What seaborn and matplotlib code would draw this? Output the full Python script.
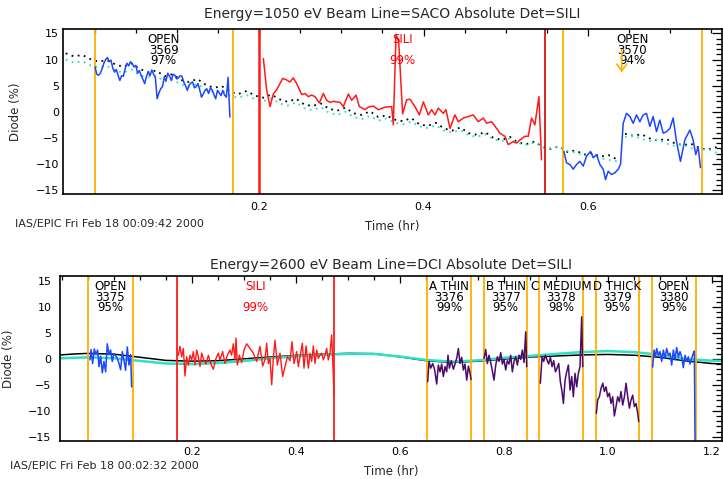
import numpy as np
import pandas as pd
import matplotlib
matplotlib.use("Agg")
import matplotlib.pyplot as plt
import seaborn as sns
from matplotlib.ticker import MultipleLocator, FixedLocator

sns.set_style("white", {"axes.edgecolor": "black"})
plt.rcParams["font.family"] = ["DejaVu Sans"]

# ---------------- data : top panel (1050 eV, SACO) ----------------
top_title = "Energy=1050 eV Beam Line=SACO Absolute Det=SILI"
top_footer = "IAS/EPIC Fri Feb 18 00:09:42 2000"

top_ref_t = [-0.035, -0.025, -0.015, -0.005, 0.005, 0.015, 0.025, 0.035, 0.045, 0.055,
             0.065, 0.075, 0.085, 0.095, 0.105, 0.115, 0.125, 0.135, 0.145, 0.155,
             0.165, 0.175, 0.185, 0.195, 0.205, 0.215, 0.225, 0.235, 0.245, 0.255,
             0.265, 0.275, 0.285, 0.295, 0.305, 0.315, 0.325, 0.335, 0.345, 0.355,
             0.365, 0.375, 0.385, 0.395, 0.405, 0.415, 0.425, 0.435, 0.445, 0.455,
             0.465, 0.475, 0.485, 0.495, 0.505, 0.515, 0.525, 0.535, 0.545, 0.555,
             0.565, 0.575, 0.585, 0.595, 0.605, 0.615, 0.625, 0.635, 0.645, 0.655,
             0.665, 0.675, 0.685, 0.695, 0.705, 0.715, 0.725, 0.735, 0.745, 0.755, 0.765]
top_ref_black = [11.2, 10.6, 10.9, 10.1, 9.6, 9.9, 9.1, 8.6, 9.3, 8.2,
                 7.6, 7.9, 6.8, 7.2, 6.1, 5.7, 6.3, 5.2, 4.6, 4.9,
                 3.8, 3.4, 4.0, 3.1, 2.7, 3.3, 2.4, 1.9, 2.5, 1.4,
                 1.1, 1.6, 0.6, 0.2, 0.8, -0.3, -0.6, 0.1, -1.0, -0.7,
                 -1.5, -1.8, -1.2, -2.4, -2.7, -2.1, -3.2, -3.6, -3.0, -4.1,
                 -4.4, -3.9, -5.0, -5.4, -4.8, -5.9, -6.2, -5.7, -6.8, -7.1,
                 -6.6, -7.7, -7.4, -8.2, -7.9, -8.6, -8.3, -9.1, -4.2, -4.6,
                 -4.3, -5.1, -5.5, -5.2, -6.0, -6.4, -6.1, -6.9, -7.3, -6.8, -7.4]
top_ref_cyan = [10.0, 9.4, 9.7, 8.9, 8.5, 8.8, 7.9, 7.5, 8.1, 7.0,
                6.6, 6.9, 5.8, 6.2, 5.2, 4.8, 5.3, 4.3, 3.8, 4.1,
                3.0, 2.7, 3.2, 2.4, 2.0, 2.6, 1.6, 1.2, 1.8, 0.7,
                0.3, 0.9, -0.2, -0.6, 0.0, -1.0, -1.4, -0.8, -1.7, -1.3,
                -2.1, -2.4, -1.9, -2.8, -3.1, -2.6, -3.6, -4.0, -3.5, -4.5,
                -4.8, -4.3, -5.3, -5.6, -5.1, -6.0, -6.3, -5.9, -6.8, -7.0,
                -6.6, -7.5, -7.8, -8.4, -8.1, -8.9, -9.2, -9.5, -4.8, -4.5,
                -5.2, -5.6, -5.3, -6.1, -6.5, -6.2, -7.0, -7.4, -7.1, -7.8, -7.5]

top_open1_v = [8.6, 7.2, 7.0, 7.4, 8.2, 9.3, 10.0, 10.4, 9.6, 9.9, 8.4, 7.6, 8.1, 7.0, 6.0,
               6.9, 6.8, 8.3, 9.3, 8.8, 9.6, 9.2, 8.6, 8.9, 7.4, 7.9, 7.0, 6.2, 5.4, 6.8,
               7.6, 6.9, 8.0, 7.2, 6.6, 2.5, 3.6, 4.4, 4.8, 6.6, 5.9, 7.4, 6.8, 6.0, 7.2,
               7.0, 6.3, 6.5, 6.9, 6.8, 5.7, 5.0, 4.1, 5.1, 5.5, 5.7, 4.6, 4.8, 5.4, 4.2,
               2.8, 3.4, 4.1, 4.4, 3.5, 4.6, 4.2, 3.3, 2.5, 4.1, 3.6, 3.1, 4.1, 3.2, 2.8,
               6.6, -1.0]
top_open1_span = (0.0006, 0.1646)

top_sili_t = [0.2053, 0.2093, 0.2134, 0.2174, 0.2215, 0.2288, 0.2336, 0.2377, 0.2417, 0.2458,
              0.2519, 0.2559, 0.2600, 0.2640, 0.2681, 0.2733, 0.2782, 0.2823, 0.2863, 0.2904,
              0.2985, 0.3025, 0.3086, 0.3127, 0.3179, 0.3220, 0.3289, 0.3329, 0.3390, 0.3451,
              0.3532, 0.3613, 0.3633, 0.3666, 0.3698, 0.3746, 0.3795, 0.3836, 0.3896, 0.3949,
              0.3998, 0.4058, 0.4099, 0.4139, 0.4180, 0.4241, 0.4273, 0.4322, 0.4382, 0.4423,
              0.4484, 0.4544, 0.4605, 0.4666, 0.4727, 0.4767, 0.4828, 0.4889, 0.4929, 0.4990,
              0.5030, 0.5091, 0.5132, 0.5172, 0.5233, 0.5273, 0.5314, 0.5354, 0.5403, 0.5435]
top_sili_v = [10.2, 4.2, 1.0, 3.4, 4.2, 6.4, 6.1, 5.7, 6.5, 5.4,
              3.3, 3.5, 2.9, 3.2, 2.9, 1.7, 3.5, 2.2, 1.8, 2.0,
              1.8, 1.0, 3.4, 2.2, 3.2, 1.0, 0.4, 0.9, 1.1, 0.4,
              0.9, 1.0, -2.5, 14.8, 13.5, -0.4, 2.3, 2.4, 1.0, -0.6,
              1.9, -0.6, 0.4, -0.6, 0.7, -0.3, 0.4, -3.2, -0.6, -1.9,
              -1.2, -0.9, -0.6, -1.9, -1.2, -2.2, -1.9, -3.2, -4.1, -4.7,
              -6.3, -5.7, -6.0, -5.4, -4.7, -4.7, -1.2, -2.5, 2.9, -9.2]

top_open2_t = [0.5707, 0.5739, 0.5780, 0.5820, 0.5861, 0.5901, 0.5942, 0.5982, 0.6031, 0.6063,
               0.6104, 0.6144, 0.6185, 0.6213, 0.6245, 0.6286, 0.6326, 0.6367, 0.6395, 0.6428,
               0.6468, 0.6509, 0.6549, 0.6590, 0.6630, 0.6671, 0.6711, 0.6752, 0.6792, 0.6833,
               0.6873, 0.6914, 0.6954, 0.6995, 0.7035, 0.7076, 0.7124, 0.7177, 0.7238, 0.7278,
               0.7310, 0.7339, 0.7367]
top_open2_v = [-7.6, -9.8, -10.1, -11.0, -10.1, -9.5, -10.4, -8.5, -7.6, -8.8,
               -8.2, -10.1, -11.0, -13.0, -11.4, -12.0, -11.7, -11.0, -10.1, -2.2,
               -0.3, -0.9, -2.2, -0.6, -1.9, -0.6, -0.3, -2.8, -0.9, -3.8,
               -1.6, -4.1, -3.8, -3.2, -1.2, -5.7, -9.5, -5.4, -3.5, -5.4,
               -8.2, -6.7, -10.7]

top_orange_lines = [0.0, 0.168, 0.569, 0.739]
top_red_lines = [0.2]
top_darkred_lines = [0.548]
top_labels = [  # (start, end, line1, line2, line3, colour)
    (0.0, 0.168, "OPEN", "3569", "97%", "black"),
    (0.2, 0.548, "SILI", "", "99%", "red"),
    (0.569, 0.739, "OPEN", "3570", "94%", "black"),
]
top_arrow_t = 0.641
top_arrow_from, top_arrow_to = 12.4, 7.0

# ---------------- data : bottom panel (2600 eV, DCI) ----------------
bot_title = "Energy=2600 eV Beam Line=DCI Absolute Det=SILI"
bot_footer = "IAS/EPIC Fri Feb 18 00:02:32 2000"

bot_ref_t = [-0.054, -0.025, 0.0, 0.05, 0.1, 0.15, 0.2, 0.25, 0.3, 0.35, 0.4, 0.45, 0.5, 0.55,
             0.6, 0.65, 0.7, 0.75, 0.8, 0.85, 0.9, 0.95, 1.0, 1.05, 1.1, 1.15, 1.2, 1.222]
bot_ref_black = [0.75, 0.95, 1.05, 0.9, 0.3, -0.3, -0.45, -0.35, 0.0, 0.35, 0.65, 0.9, 1.05, 1.0,
                 0.4, -0.35, -0.7, -0.45, -0.05, 0.35, 0.55, 0.75, 0.85, 0.7, 0.3, -0.4, -0.9, -1.0]
bot_ref_cyan = [0.1, 0.2, 0.3, 0.1, -0.4, -0.9, -1.0, -0.8, -0.4, 0.1, 0.5, 0.8, 0.95, 0.95,
                0.45, -0.2, -0.55, -0.3, 0.2, 0.55, 0.95, 1.3, 1.5, 1.3, 0.8, -0.05, -0.35, -0.4]

bot_open1_t = [0.0037, 0.0056, 0.0088, 0.0120, 0.0152, 0.0184, 0.0210, 0.0242, 0.0274, 0.0306,
               0.0338, 0.0370, 0.0402, 0.0434, 0.0466, 0.0498, 0.0531, 0.0563, 0.0595, 0.0627,
               0.0659, 0.0691, 0.0723, 0.0755, 0.0787, 0.0819, 0.0838]
bot_open1_v = [-0.2, 1.8, -0.9, 1.9, 0.8, 1.7, -1.5, 0.5, -2.7, -0.5,
               -2.5, 2.9, 0.8, 1.7, -0.5, 1.0, 0.6, 0.1, -0.9, -2.1,
               1.4, -0.3, -2.2, 2.3, -1.2, 0.8, -5.4]

bot_sili_t = [0.1737, 0.1769, 0.1801, 0.1833, 0.1865, 0.1897, 0.1929, 0.1962, 0.1994, 0.2026,
              0.2058, 0.2090, 0.2122, 0.2154, 0.2186, 0.2231, 0.2269, 0.2314, 0.2359, 0.2410,
              0.2462, 0.2507, 0.2539, 0.2590, 0.2635, 0.2680, 0.2731, 0.2763, 0.2795, 0.2827,
              0.2847, 0.2872, 0.2911, 0.2956, 0.3001, 0.3052, 0.3180, 0.3244, 0.3308, 0.3360,
              0.3405, 0.3437, 0.3469, 0.3501, 0.3533, 0.3565, 0.3597, 0.3642, 0.3693, 0.3745,
              0.3790, 0.3835, 0.3886, 0.3924, 0.3963, 0.4014, 0.4046, 0.4078, 0.4123, 0.4155,
              0.4194, 0.4239, 0.4271, 0.4303, 0.4335, 0.4367, 0.4399, 0.4431, 0.4463, 0.4495,
              0.4527, 0.4559, 0.4591, 0.4623, 0.4655, 0.4687, 0.4707, 0.4732]
bot_sili_v = [0.7, 2.4, 0.4, 2.0, -3.3, 0.4, -1.2, 0.7, -0.2, 1.4,
              -1.2, 1.7, 0.4, -1.5, 1.1, -0.35, -1.0, 0.7, -0.9, -2.0,
              0.1, 1.1, -0.2, 1.4, -0.9, 0.7, 1.7, 0.7, 2.9, -0.2,
              4.0, -1.2, 0.7, -0.7, 1.7, 2.9, 1.1, -0.5, 2.4, -1.4,
              -0.1, 3.0, -0.9, 0.1, -5.0, 0.1, 3.6, -1.2, 1.1, -3.4,
              -1.5, 0.4, -0.35, 3.3, -0.9, 1.4, -1.5, 0.4, 3.0, -1.8,
              2.5, -1.8, 1.1, -0.5, 2.5, -0.9, 1.7, 0.1, 0.7, 1.1,
              -0.2, 0.7, 2.0, -0.2, 1.1, 4.6, -0.2, -7.0]

bot_athin_t = [0.6535, 0.6561, 0.6593, 0.6631, 0.6670, 0.6708, 0.6740, 0.6772, 0.6804, 0.6836,
               0.6869, 0.6901, 0.6926, 0.6952, 0.6990, 0.7029, 0.7061, 0.7093, 0.7125, 0.7157,
               0.7189, 0.7221, 0.7253, 0.7286, 0.7318, 0.7350, 0.7369]
bot_athin_v = [-4.4, -0.5, -1.8, -0.9, -2.15, -4.85, -1.2, -2.5, -1.0, -3.4,
               -1.5, -2.5, 0.7, -1.8, -0.35, -2.0, -1.0, 0.1, 2.0, -0.9,
               0.3, -2.15, -1.0, -4.1, -1.4, -2.8, -4.0]

bot_bthin_t = [0.7619, 0.7651, 0.7683, 0.7715, 0.7747, 0.7779, 0.7811, 0.7844, 0.7876, 0.7908,
               0.7940, 0.7972, 0.8004, 0.8036, 0.8068, 0.8100, 0.8132, 0.8164, 0.8196, 0.8228,
               0.8261, 0.8293, 0.8325, 0.8357, 0.8389, 0.8421, 0.8440]
bot_bthin_v = [0.1, 1.8, -0.9, 0.7, -0.7, -2.3, -4.1, -1.2, 0.4, -0.5,
               1.2, -1.0, -0.1, -2.15, -0.35, -1.0, 0.7, -2.5, -0.5, 0.4,
               -1.2, 0.7, -0.1, 1.7, -0.7, 5.2, -1.5]

bot_cmed_t = [0.8703, 0.8735, 0.8767, 0.8799, 0.8831, 0.8863, 0.8896, 0.8928, 0.8960, 0.8992,
              0.9024, 0.9056, 0.9088, 0.9120, 0.9146, 0.9178, 0.9210, 0.9242, 0.9274, 0.9306,
              0.9338, 0.9370, 0.9402, 0.9434, 0.9466, 0.9498, 0.9518]
bot_cmed_v = [-4.7, 0.4, -0.5, 0.7, -0.2, -1.0, 0.3, -1.5, -0.35, -2.5,
              -1.8, -0.9, -4.4, -6.3, -8.6, -4.1, -2.5, -1.2, -6.0, -3.4,
              -7.3, -2.8, -5.4, -2.8, -1.5, 8.1, -1.5]

bot_dthick_t = [0.9781, 0.9806, 0.9838, 0.9870, 0.9903, 0.9935, 0.9967, 0.9999, 1.0031, 1.0063,
                1.0095, 1.0127, 1.0159, 1.0191, 1.0223, 1.0255, 1.0288, 1.0320, 1.0352, 1.0384,
                1.0416, 1.0448, 1.0480, 1.0512, 1.0544, 1.0576, 1.0595]
bot_dthick_v = [-10.5, -7.9, -7.3, -5.7, -4.7, -6.3, -5.4, -7.3, -6.6, -8.6,
                -7.3, -11.0, -9.2, -7.3, -8.25, -6.3, -8.9, -7.3, -4.7, -7.3,
                -9.5, -7.9, -7.0, -9.2, -8.6, -10.5, -12.1]

bot_open2_t = [1.0864, 1.0890, 1.0916, 1.0941, 1.0973, 1.1005, 1.1038, 1.1070, 1.1102, 1.1134,
               1.1166, 1.1198, 1.1230, 1.1262, 1.1294, 1.1326, 1.1358, 1.1390, 1.1422, 1.1454,
               1.1486, 1.1518, 1.1550, 1.1582, 1.1615, 1.1647, 1.1666, 1.1679]
bot_open2_v = [-1.6, 1.7, 0.4, 2.0, 0.7, 1.4, -0.5, 1.7, 0.1, 2.0,
               0.7, 1.1, -1.2, 1.7, -0.2, 2.2, 0.3, 1.4, 0.4, -1.7,
               0.7, -0.5, 0.4, -1.0, 0.1, 1.1, 1.5, -15.9]

bot_orange_lines = [0.0, 0.086, 0.652, 0.737, 0.762, 0.845, 0.868, 0.952,
                    0.977, 1.060, 1.085, 1.170]
bot_red_lines = [0.172, 0.473]
bot_labels = [
    (0.0, 0.086, "OPEN", "3375", "95%", "black"),
    (0.172, 0.473, "SILI", "", "99%", "red"),
    (0.652, 0.737, "A THIN", "3376", "99%", "black"),
    (0.762, 0.845, "B THIN", "3377", "95%", "black"),
    (0.868, 0.952, "C MEDIUM", "3378", "98%", "black"),
    (0.977, 1.060, "D THICK", "3379", "95%", "black"),
    (1.085, 1.170, "OPEN", "3380", "95%", "black"),
]

# ---------------- styling ----------------
ORANGE = "#FFB000"
RED = "#FF1A1A"
DARKRED = "#CC0000"
BLUE = "#1E46FF"
PURPLE = "#4B0C6B"
CYAN = "#2EE0C4"

fig = plt.figure(figsize=(7.23, 4.79), dpi=100)
W, H = 723.0, 479.0
ax1 = fig.add_axes([63 / W, 1 - 194 / H, 659 / W, 165 / H])
ax2 = fig.add_axes([60 / W, 1 - 441 / H, 662 / W, 165.3 / H])


def line(ax, t, v, color, lw=1.0, ls="-"):
    df = pd.DataFrame({"t": t, "v": v})
    sns.lineplot(data=df, x="t", y="v", ax=ax, color=color, lw=lw, ls=ls,
                 estimator=None, sort=False, legend=False)


def dotted_ref(ax, t, v, color):
    t = np.asarray(t)
    v = np.asarray(v)
    jump = np.where(np.abs(np.diff(v)) > 3)[0]
    cuts = [0] + list(jump + 1) + [len(t)]
    for a, b in zip(cuts[:-1], cuts[1:]):
        line(ax, t[a:b], v[a:b], color, lw=1.3, ls=(0, (1, 2.5)))


def style(ax, xlim, ylim, xmajor, ypad, xpad):
    ax.set_xlim(*xlim)
    ax.set_ylim(*ylim)
    ax.xaxis.set_major_locator(FixedLocator(xmajor))
    ax.xaxis.set_minor_locator(MultipleLocator(0.05))
    ax.set_xticklabels([f"{x:.1f}" for x in xmajor])
    ax.yaxis.set_major_locator(MultipleLocator(5))
    ax.yaxis.set_minor_locator(MultipleLocator(1))
    ax.tick_params(direction="in", top=True, right=True, which="both",
                   labelsize=8, colors="black", width=0.9)
    ax.tick_params(axis="y", which="major", length=7, pad=ypad)
    ax.tick_params(axis="y", which="minor", length=4)
    ax.tick_params(axis="x", which="major", length=5, pad=xpad)
    ax.tick_params(axis="x", which="minor", length=3)
    for sp in ax.spines.values():
        sp.set_visible(True)
        sp.set_color("black")
        sp.set_linewidth(1.2)
    ax.set_xlabel("Time (hr)", fontsize=8.5)
    ax.set_ylabel("Diode (%)", fontsize=8.5)


def labels(ax, items, ymid):
    # one multi-line text per segment, tightly stacked like the original
    for a, b, l1, l2, l3, c in items:
        xc = (a + b) / 2
        ax.text(xc, ymid, f"{l1}\n{l2}\n{l3}", ha="center", va="center",
                fontsize=8.5, color=c, linespacing=0.72, multialignment="center")


# ---- top panel ----
dotted_ref(ax1, top_ref_t, top_ref_black, "black")
dotted_ref(ax1, top_ref_t, top_ref_cyan, CYAN)
for x in top_orange_lines:
    ax1.axvline(x, color=ORANGE, lw=1.3)
for x in top_red_lines:
    ax1.axvline(x, color=RED, lw=1.8)
for x in top_darkred_lines:
    ax1.axvline(x, color=DARKRED, lw=1.2)
line(ax1, np.linspace(*top_open1_span, len(top_open1_v)), top_open1_v, BLUE, 1.1)
line(ax1, top_sili_t, top_sili_v, RED, 1.1)
line(ax1, top_open2_t, top_open2_v, BLUE, 1.1)
labels(ax1, top_labels, 11.8)
ax1.annotate("", xy=(top_arrow_t, top_arrow_to), xytext=(top_arrow_t, top_arrow_from),
             arrowprops=dict(arrowstyle="->,head_length=0.5,head_width=0.35",
                             color=ORANGE, lw=1.2))
style(ax1, (-0.0383, 0.7629), (-15.75, 15.86), [0.2, 0.4, 0.6], ypad=3, xpad=6)
ax1.set_title(top_title, fontsize=10, pad=8)
ax1.yaxis.set_label_coords(-0.062, 0.5)
ax1.xaxis.set_label_coords(0.5, -0.155)

# ---- bottom panel ----
line(ax2, bot_ref_t, bot_ref_black, "black", 1.1)
line(ax2, bot_ref_t, bot_ref_cyan, CYAN, 1.8)
for x in bot_orange_lines:
    ax2.axvline(x, color=ORANGE, lw=1.3)
for x in bot_red_lines:
    ax2.axvline(x, color=RED, lw=1.3)
line(ax2, bot_open1_t, bot_open1_v, BLUE, 1.1)
line(ax2, bot_sili_t, bot_sili_v, RED, 1.0)
for t, v in [(bot_athin_t, bot_athin_v), (bot_bthin_t, bot_bthin_v),
             (bot_cmed_t, bot_cmed_v), (bot_dthick_t, bot_dthick_v)]:
    line(ax2, t, v, PURPLE, 1.1)
line(ax2, bot_open2_t, bot_open2_v, BLUE, 1.1)
labels(ax2, bot_labels, 11.9)
style(ax2, (-0.054, 1.2198), (-15.83, 16.02),
      [0.2, 0.4, 0.6, 0.8, 1.0, 1.2], ypad=6, xpad=4)
ax2.set_title(bot_title, fontsize=10, pad=5)
ax2.yaxis.set_label_coords(-0.068, 0.5)
ax2.xaxis.set_label_coords(0.5, -0.145)

fig.text(15 / W, 1 - 224 / H, top_footer, fontsize=8, va="center", ha="left")
fig.text(10 / W, 1 - 466 / H, bot_footer, fontsize=8, va="center", ha="left")

fig.savefig("out.png", dpi=100)
